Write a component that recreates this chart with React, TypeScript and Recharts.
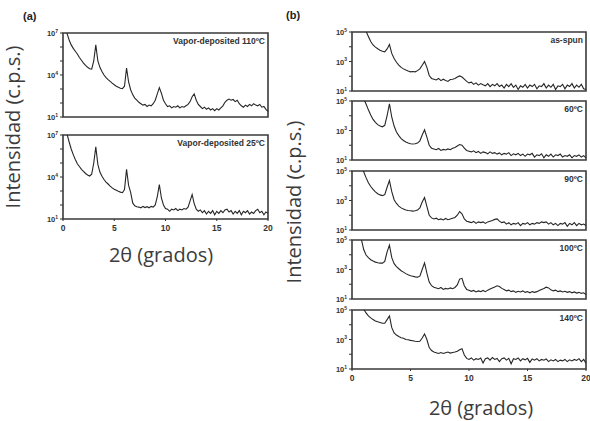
import React from 'react';
import { LineChart, Line, XAxis, YAxis, ReferenceArea } from 'recharts';

// 2θ grid (degrees)
const twoTheta = [
  0.2, 0.4, 0.6, 0.8, 1.0, 1.2, 1.4, 1.6, 1.8, 2.0,
  2.2, 2.4, 2.6, 2.8, 3.0, 3.2, 3.4, 3.6, 3.8, 4.0,
  4.2, 4.4, 4.6, 4.8, 5.0, 5.2, 5.4, 5.6, 5.8, 6.0,
  6.2, 6.4, 6.6, 6.8, 7.0, 7.2, 7.4, 7.6, 7.8, 8.0,
  8.2, 8.4, 8.6, 8.8, 9.0, 9.2, 9.4, 9.6, 9.8, 10.0,
  10.2, 10.4, 10.6, 10.8, 11.0, 11.2, 11.4, 11.6, 11.8, 12.0,
  12.2, 12.4, 12.6, 12.8, 13.0, 13.2, 13.4, 13.6, 13.8, 14.0,
  14.2, 14.4, 14.6, 14.8, 15.0, 15.2, 15.4, 15.6, 15.8, 16.0,
  16.2, 16.4, 16.6, 16.8, 17.0, 17.2, 17.4, 17.6, 17.8, 18.0,
  18.2, 18.4, 18.6, 18.8, 19.0, 19.2, 19.4, 19.6, 19.8, 20.0,
];

// log10 of intensity (c.p.s.)
const vapor110 = [
  7.3, 6.95, 6.5, 6.15, 5.9, 5.7, 5.5, 5.25, 5.05, 4.85,
  4.68, 4.55, 4.45, 4.42, 5.0, 6.15, 5.0, 4.55, 4.25, 4.0,
  3.82, 3.67, 3.55, 3.42, 3.3, 3.2, 3.12, 3.06, 3.02, 3.2,
  4.5, 3.5, 2.95, 2.6, 2.35, 2.2, 2.05, 1.95, 1.85, 1.9,
  1.75, 1.85, 1.8, 1.95, 2.2, 2.65, 3.1, 2.7, 2.2, 1.95,
  1.75, 1.8, 1.65, 1.75, 1.7, 1.8, 1.65, 1.75, 1.7, 1.8,
  1.9, 2.1, 2.45, 2.65, 2.2, 1.9, 1.75, 1.6, 1.7, 1.55,
  1.65, 1.5, 1.6, 1.45, 1.6, 1.5, 1.65, 1.8, 2.05, 2.2,
  2.28, 2.2, 2.25, 2.1, 2.2, 1.95, 1.8, 1.7, 1.85, 1.75,
  1.9, 1.8, 1.95, 1.85, 1.8, 1.9, 1.7, 1.75, 1.55, 1.4,
];

const vapor25 = [
  7.4, 7.05, 6.5, 6.0, 5.6, 5.25, 4.95, 4.75, 4.55, 4.4,
  4.25, 4.14, 4.07, 4.2, 5.0, 6.15, 4.9, 4.35, 4.05, 3.82,
  3.64, 3.5, 3.35, 3.22, 3.12, 3.05, 2.98, 2.92, 2.88, 3.1,
  4.55, 3.4, 2.9, 2.15, 1.95, 1.88, 1.85, 1.8, 1.9, 1.82,
  1.88, 1.8, 1.9, 1.85, 2.0, 2.6, 3.45, 2.5, 2.0, 1.75,
  1.7, 1.55, 1.7, 1.65, 1.75, 1.6, 1.7, 1.65, 1.75, 1.7,
  1.85, 2.3, 2.75, 2.1, 1.7, 1.55, 1.65, 1.45, 1.6, 1.35,
  1.55, 1.4, 1.6, 1.3, 1.55, 1.4, 1.6, 1.45, 1.65, 1.7,
  1.5, 1.6, 1.35, 1.55, 1.4, 1.6, 1.3, 1.55, 1.45, 1.6,
  1.35, 1.5, 1.4, 1.6, 1.7, 1.45, 1.55, 1.3, 1.5, 1.4,
];

const asSpun = [
  6.6, 6.3, 6.0, 5.7, 5.4, 5.05, 4.7, 4.35, 4.12, 3.97,
  3.86, 3.77, 3.7, 3.66, 3.85, 4.15, 3.55, 3.2, 2.95, 2.75,
  2.6, 2.5, 2.42, 2.35, 2.3, 2.32, 2.3, 2.38, 2.5, 2.75,
  3.0, 2.6, 2.05, 1.85, 1.8, 1.75, 1.85, 1.7, 1.8, 1.72,
  1.65, 1.78, 1.8, 1.85, 1.95, 2.02, 1.95, 1.8, 1.65, 1.55,
  1.6, 1.45, 1.55, 1.4, 1.5, 1.42, 1.35, 1.5, 1.3, 1.45,
  1.35, 1.5, 1.3, 1.4, 1.2, 1.45, 1.3, 1.5, 1.25, 1.4,
  1.1, 1.35, 1.25, 1.45, 1.2, 1.4, 1.3, 1.45, 1.15, 1.35,
  1.3, 1.5, 1.2, 1.4, 1.25, 1.45, 1.1, 1.35, 1.3, 1.45,
  1.15, 1.4, 1.3, 1.5, 1.2, 1.4, 1.25, 1.45, 1.15, 1.1,
];

const anneal60 = [
  6.5, 6.2, 5.9, 5.5, 5.15, 4.8, 4.4, 4.05, 3.75, 3.55,
  3.4, 3.3, 3.25, 3.35, 4.0, 4.8, 3.9, 3.3, 2.9, 2.65,
  2.45, 2.32, 2.22, 2.15, 2.1, 2.08, 2.1, 2.15, 2.3, 2.7,
  3.05, 2.55, 2.0, 1.8, 1.75, 1.7, 1.78, 1.65, 1.72, 1.68,
  1.75, 1.7, 1.8, 1.85, 1.95, 2.05, 2.0, 1.8, 1.65, 1.6,
  1.55, 1.62, 1.5, 1.58, 1.45, 1.55, 1.5, 1.42, 1.55, 1.45,
  1.5, 1.4, 1.48, 1.35, 1.45, 1.4, 1.5, 1.3, 1.42, 1.35,
  1.45, 1.3, 1.4, 1.25, 1.4, 1.35, 1.45, 1.2, 1.35, 1.3,
  1.42, 1.15, 1.35, 1.25, 1.4, 1.2, 1.35, 1.3, 1.4, 1.2,
  1.3, 1.25, 1.35, 1.15, 1.3, 1.25, 1.35, 1.2, 1.3, 1.15,
];

const anneal90 = [
  6.5, 6.1, 5.7, 5.3, 4.95, 4.55, 4.2, 3.95, 3.75, 3.58,
  3.46, 3.38, 3.33, 3.4, 3.9, 4.35, 3.6, 3.05, 2.8, 2.62,
  2.5, 2.42, 2.36, 2.32, 2.3, 2.28, 2.3, 2.35, 2.5, 2.9,
  3.2, 2.6, 2.0, 1.82, 1.75, 1.8, 1.7, 1.75, 1.68, 1.78,
  1.7, 1.75, 1.8, 1.85, 2.0, 2.25, 2.1, 1.75, 1.6, 1.55,
  1.5, 1.58, 1.45, 1.55, 1.5, 1.55, 1.45, 1.55, 1.6, 1.65,
  1.72, 1.75, 1.6, 1.5, 1.55, 1.4, 1.5, 1.35, 1.45, 1.4,
  1.5, 1.3, 1.45, 1.4, 1.5, 1.35, 1.45, 1.4, 1.5, 1.45,
  1.55, 1.5, 1.55, 1.4, 1.5, 1.35, 1.45, 1.3, 1.45, 1.4,
  1.5, 1.25, 1.45, 1.35, 1.5, 1.3, 1.45, 1.35, 1.4, 1.3,
];

const anneal100 = [
  6.8, 6.3, 5.7, 5.05, 4.35, 3.98, 3.8, 3.66, 3.57, 3.5,
  3.46, 3.43, 3.43, 3.55, 4.2, 4.65, 3.8, 3.4, 3.2, 3.05,
  2.92, 2.82, 2.72, 2.64, 2.58, 2.54, 2.5, 2.48, 2.55, 3.0,
  3.45, 2.75, 2.15, 1.9, 1.8, 1.75, 1.7, 1.78, 1.65, 1.72,
  1.68, 1.75, 1.7, 1.78, 1.95, 2.35, 2.4, 1.9, 1.65, 1.6,
  1.52, 1.58, 1.48, 1.55, 1.5, 1.58, 1.5, 1.6, 1.68, 1.75,
  1.82, 1.9, 1.85, 1.72, 1.65, 1.55, 1.6, 1.5, 1.55, 1.45,
  1.52, 1.48, 1.55, 1.45, 1.5, 1.42, 1.5, 1.45, 1.5, 1.58,
  1.65, 1.72, 1.8, 1.75, 1.62, 1.55, 1.6, 1.5, 1.55, 1.48,
  1.52, 1.45, 1.5, 1.42, 1.48, 1.4, 1.45, 1.38, 1.42, 1.3,
];

const anneal140 = [
  6.6, 6.2, 5.8, 5.4, 5.05, 4.8, 4.6, 4.47, 4.35, 4.26,
  4.2, 4.15, 4.1, 4.1, 4.35, 4.6, 3.8, 3.45, 3.3, 3.2,
  3.12, 3.08, 3.0, 2.98, 2.94, 2.92, 2.88, 2.86, 2.88, 3.1,
  3.38, 3.0, 2.45, 2.25, 2.15, 2.1, 2.05, 2.12, 2.05, 2.1,
  2.15, 2.08, 2.12, 2.15, 2.2, 2.3, 2.38, 1.95, 1.72, 1.65,
  1.75, 1.6, 1.7, 1.65, 1.75, 1.4, 1.7, 1.75, 1.6, 1.78,
  1.65, 1.72, 1.5, 1.7, 1.75, 1.6, 1.72, 1.35, 1.7, 1.65,
  1.75, 1.55, 1.7, 1.62, 1.72, 1.45, 1.68, 1.6, 1.7, 1.55,
  1.65, 1.6, 1.68, 1.5, 1.62, 1.55, 1.65, 1.5, 1.6, 1.55,
  1.65, 1.5, 1.62, 1.55, 1.65, 1.58, 1.7, 1.5, 1.65, 1.4,
];

const xTicks = [0, 5, 10, 15, 20];
const decadesA = [10, 100, 1e3, 1e4, 1e5, 1e6, 1e7];
const decadesB = [10, 100, 1e3, 1e4, 1e5];
const labelsA = [1, 4, 7];
const labelsB = [1, 3, 5];

const TICK_FONT = '"Liberation Sans", Arial, sans-serif';
const TITLE_FONT = '"Open Sans", sans-serif';
const Y_AXIS_W = 36;
const M_TOP = 8;
const M_RIGHT = 9;

function renderYTick(p: any, labelled: number[]) {
  const exp = Math.round(Math.log10(p.payload.value));
  if (!labelled.includes(exp)) return <g />;
  return (
    <text x={p.x} y={p.y + 3} textAnchor="end" fontFamily={TICK_FONT} fontWeight="bold" fontSize={7.5} fill="#333">
      10<tspan fontSize={5} dy={-3.5}>{exp}</tspan>
    </text>
  );
}

function renderXTick(p: any) {
  return (
    <text x={p.x} y={p.y + 8} textAnchor="middle" fontFamily={TICK_FONT} fontWeight="bold" fontSize={8.5} fill="#333">
      {p.payload.value}
    </text>
  );
}

type PanelProps = {
  left: number;
  top: number;
  width: number;
  height: number;
  logs: number[];
  decades: number[];
  labelled: number[];
  tag: string;
  showX: boolean;
};

function Panel({ left, top, width, height, logs, decades, labelled, tag, showX }: PanelProps) {
  const data = twoTheta.map((x, i) => ({ x, y: Math.pow(10, logs[i]) }));
  const xH = showX ? 18 : 6;
  const lo = decades[0];
  const hi = decades[decades.length - 1];
  return (
    <div style={{ position: 'absolute', left: left - Y_AXIS_W, top: top - M_TOP }}>
      <LineChart
        width={Y_AXIS_W + width + M_RIGHT}
        height={M_TOP + height + xH}
        data={data}
        margin={{ top: M_TOP, right: M_RIGHT, bottom: 0, left: 0 }}
      >
        <XAxis
          type="number"
          dataKey="x"
          domain={[0, 20]}
          ticks={xTicks}
          interval={0}
          axisLine={false}
          tickSize={2}
          tickLine={{ stroke: '#333' }}
          height={xH}
          tick={showX ? renderXTick : false}
        />
        <YAxis
          type="number"
          scale="log"
          domain={[lo, hi]}
          allowDataOverflow
          ticks={decades}
          interval={0}
          width={Y_AXIS_W}
          axisLine={false}
          tickSize={3}
          tickLine={{ stroke: '#333' }}
          tick={(p: any) => renderYTick(p, labelled)}
        />
        <Line type="linear" dataKey="y" stroke="#262626" strokeWidth={1.1} dot={false} isAnimationActive={false} />
        <ReferenceArea x1={0} x2={20} y1={lo} y2={hi} fill="none" stroke="#3a3a3a" strokeWidth={1.6} ifOverflow="visible" />
      </LineChart>
      <div
        style={{
          position: 'absolute',
          right: M_RIGHT + 3,
          top: M_TOP + 3,
          fontFamily: TICK_FONT,
          fontWeight: 'bold',
          fontSize: 8.5,
          color: '#333',
          whiteSpace: 'nowrap',
        }}
      >
        {tag}
      </div>
    </div>
  );
}

const titleStyle: React.CSSProperties = {
  position: 'absolute',
  fontFamily: TITLE_FONT,
  fontSize: 20,
  color: '#3c3c3c',
  whiteSpace: 'nowrap',
  transform: 'translate(-50%, -50%)',
};

const letterStyle: React.CSSProperties = {
  position: 'absolute',
  fontFamily: TICK_FONT,
  fontWeight: 'bold',
  fontSize: 11,
  color: '#222',
};

export default function App() {
  return (
    <div style={{ position: 'absolute', left: 0, top: 0, width: 590, height: 421, background: '#fff', overflow: 'hidden' }}>
      <div style={{ ...letterStyle, left: 23, top: 10 }}>(a)</div>
      <div style={{ ...letterStyle, left: 286, top: 9 }}>(b)</div>

      <Panel left={63} top={33} width={205} height={84} logs={vapor110} decades={decadesA} labelled={labelsA} tag="Vapor-deposited 110ºC" showX={false} />
      <Panel left={63} top={135} width={205} height={84} logs={vapor25} decades={decadesA} labelled={labelsA} tag="Vapor-deposited 25ºC" showX />

      <Panel left={352} top={32} width={234} height={59} logs={asSpun} decades={decadesB} labelled={labelsB} tag="as-spun" showX={false} />
      <Panel left={352} top={101} width={234} height={59} logs={anneal60} decades={decadesB} labelled={labelsB} tag="60ºC" showX={false} />
      <Panel left={352} top={171} width={234} height={59} logs={anneal90} decades={decadesB} labelled={labelsB} tag="90ºC" showX={false} />
      <Panel left={352} top={240} width={234} height={59} logs={anneal100} decades={decadesB} labelled={labelsB} tag="100ºC" showX={false} />
      <Panel left={352} top={310} width={234} height={59} logs={anneal140} decades={decadesB} labelled={labelsB} tag="140ºC" showX />

      <div style={{ ...titleStyle, left: 12, top: 127, transform: 'translate(-50%, -50%) rotate(-90deg)' }}>Intensidad (c.p.s.)</div>
      <div style={{ ...titleStyle, left: 293, top: 202, transform: 'translate(-50%, -50%) rotate(-90deg)' }}>Intensidad (c.p.s.)</div>
      <div style={{ ...titleStyle, left: 161, top: 254 }}>2θ (grados)</div>
      <div style={{ ...titleStyle, left: 481, top: 407 }}>2θ (grados)</div>
    </div>
  );
}
